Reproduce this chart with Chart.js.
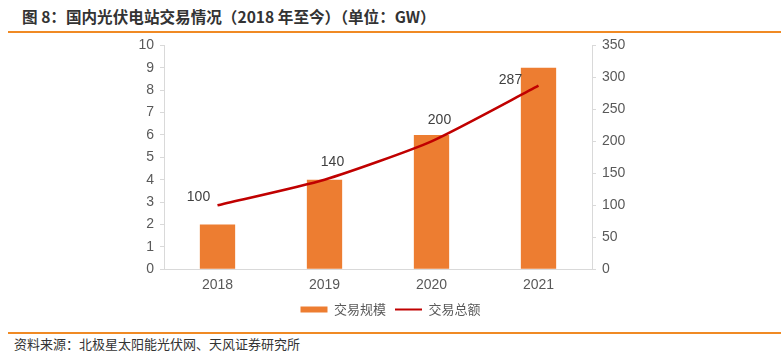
<!DOCTYPE html>
<html>
<head>
<meta charset="utf-8">
<script src="https://cdn.jsdelivr.net/npm/chart.js@4"></script>
<style>
  body { margin: 0; background: #fff; width: 781px; height: 352px; position: relative; overflow: hidden; }
  .title { position: absolute; left: 22px; top: 5px; font: bold 15.6px "Noto Sans CJK SC", sans-serif; color: #333; }
  .rule { position: absolute; left: 8px; right: 0; height: 1.5px; background: #f08a24; }
  .source { position: absolute; left: 14px; top: 334px; font: 13px "Noto Sans CJK SC", sans-serif; color: #333; }
  .wrap { position: absolute; left: 0; top: 31px; width: 781px; height: 295px; }
</style>
</head>
<body>
<div class="title">图 8：国内光伏电站交易情况（2018 年至今）（单位：GW）</div>
<div class="rule" style="top:31px"></div>
<div class="wrap"><canvas id="chart"></canvas></div>
<div class="rule" style="top:332px"></div>
<div class="source">资料来源：北极星太阳能光伏网、天风证券研究所</div>
<script>
const years = ["2018", "2019", "2020", "2021"];
const scaleGW = [2, 4, 6, 9];
const totalValue = [100, 140, 200, 287];
const leftTicks = [0, 10, 1];
const rightTicks = [0, 350, 50];

// label nudges (dx, dy from the point)
const labelOffsets = [[-19, -8], [8, -18], [8, -21], [-28, -6]];

const tickFont = { family: "Liberation Sans, Arial", size: 14 };
const grey = "#595959";

const lineLabels = {
  id: "lineLabels",
  afterDatasetsDraw(chart) {
    const ctx = chart.ctx;
    const meta = chart.getDatasetMeta(1);
    ctx.save();
    ctx.font = "14px Liberation Sans, Arial";
    ctx.fillStyle = "#404040";
    ctx.textAlign = "center";
    ctx.textBaseline = "middle";
    meta.data.forEach((pt, i) => {
      const o = labelOffsets[i];
      ctx.fillText(totalValue[i], pt.x + o[0], pt.y + o[1]);
    });
    ctx.restore();
  },
};

new Chart(document.getElementById("chart"), {
  data: {
    labels: years,
    datasets: [
      {
        type: "bar",
        label: "交易规模",
        data: scaleGW,
        backgroundColor: "#ED7D31",
        yAxisID: "y",
        barPercentage: 0.66,
        categoryPercentage: 0.5,
        order: 2,
      },
      {
        type: "line",
        label: "交易总额",
        data: totalValue,
        borderColor: "#C00000",
        backgroundColor: "#C00000",
        borderWidth: 2.5,
        pointRadius: 0,
        tension: 0.2,
        yAxisID: "y1",
        order: 1,
      },
    ],
  },
  options: {
    responsive: true,
    maintainAspectRatio: false,
    animation: false,
    layout: { padding: { top: 0, bottom: 0 } },
    scales: {
      x: {
        grid: { display: false },
        border: { color: "#d9d9d9" },
        ticks: { color: grey, font: tickFont, padding: 0 },
      },
      y: {
        position: "left",
        min: leftTicks[0],
        max: leftTicks[1],
        afterFit: (s) => { s.width = 164; },
        ticks: { stepSize: leftTicks[2], color: grey, font: tickFont, padding: 6 },
        grid: { drawOnChartArea: false, tickLength: 4, color: "#d9d9d9" },
        border: { color: "#d9d9d9" },
      },
      y1: {
        position: "right",
        min: rightTicks[0],
        max: rightTicks[1],
        afterFit: (s) => { s.width = 189; },
        ticks: { stepSize: rightTicks[2], color: grey, font: tickFont, padding: 6 },
        grid: { drawOnChartArea: false, tickLength: 4, color: "#d9d9d9" },
        border: { color: "#d9d9d9" },
      },
    },
    plugins: {
      legend: {
        position: "bottom",
        labels: {
          color: grey,
          font: { family: "Noto Sans CJK SC", size: 13 },
          usePointStyle: true,
          pointStyleWidth: 27,
          boxHeight: 6,
          padding: 9,
          generateLabels: (chart) => [
            { text: chart.data.datasets[0].label, pointStyle: "rect", fillStyle: "#ED7D31",
              strokeStyle: "#ED7D31", lineWidth: 0, fontColor: grey, datasetIndex: 0 },
            { text: chart.data.datasets[1].label, pointStyle: "line", fillStyle: "#C00000",
              strokeStyle: "#C00000", lineWidth: 2, fontColor: grey, datasetIndex: 1 },
          ],
        },
      },
      tooltip: { enabled: false },
    },
  },
  plugins: [lineLabels],
});
</script>
</body>
</html>
